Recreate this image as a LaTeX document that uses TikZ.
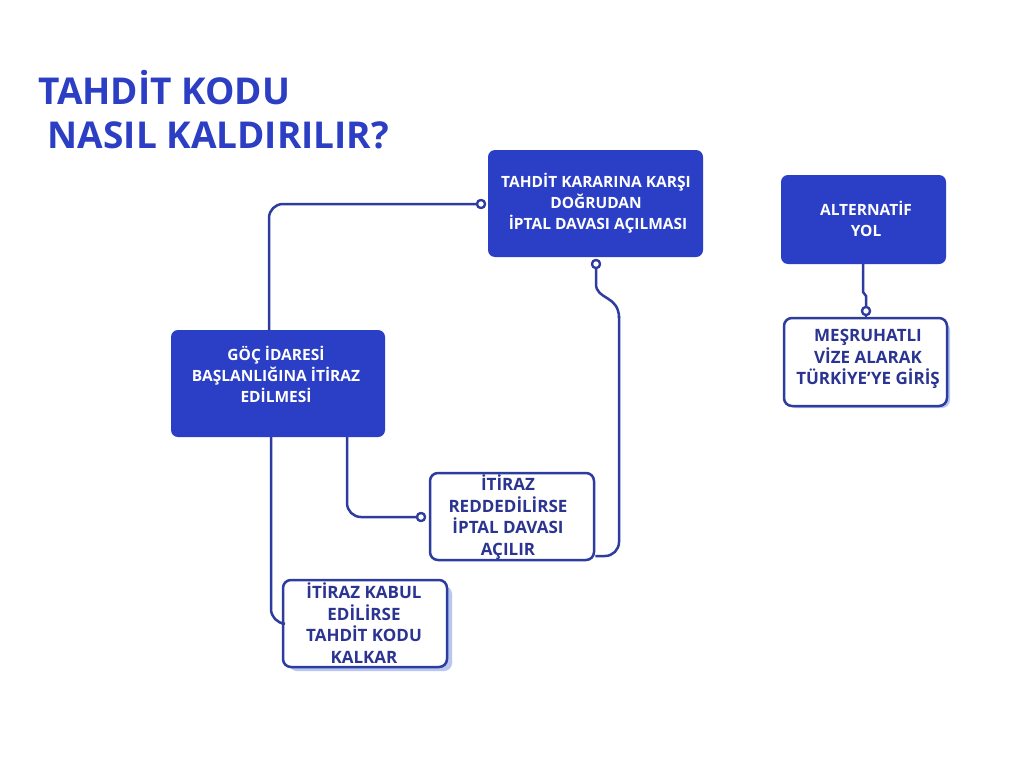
\documentclass[tikz,border=0pt]{standalone}
\usepackage{fontspec}
\setmainfont{Open Sans}
\begin{document}
\begin{tikzpicture}[x=1pt,y=-1pt,
  fillbox/.style={draw=none,fill=boxblue,rounded corners=7pt,text=white,font=\bfseries\fontsize{15.5}{21}\selectfont,align=center,inner sep=0pt},
  wbox/.style={draw=lineblue,line width=2.5pt,fill=white,rounded corners=8pt,text=navy,font=\bfseries\fontsize{17}{21.5}\selectfont,align=center,inner sep=0pt},
  shadow/.style={fill=shadowblue,rounded corners=8pt,draw=none},
  conn/.style={draw=lineblue,line width=2.5pt,rounded corners=14pt},
  dot/.style={circle,draw=lineblue,line width=2.2pt,fill=white,minimum size=8pt,inner sep=0pt}]
\definecolor{boxblue}{HTML}{2A3EC6}
\definecolor{lineblue}{HTML}{2D3C9E}
\definecolor{navy}{HTML}{2B3591}
\definecolor{shadowblue}{HTML}{B8C6F0}
\definecolor{titleblue}{HTML}{2B3EC4}
\useasboundingbox (0,0) rectangle (1024,768);
\fill[white] (0,0) rectangle (1024,768);
\node[anchor=north west,text=titleblue,font=\bfseries\fontsize{37}{44}\selectfont,align=left,inner sep=0pt] (title) at (38,70) {TAHDİT KODU\\\ NASIL KALDIRILIR?};
\fill[shadow] (289,586) rectangle (452,671);
\fill[shadow] (788,322) rectangle (950,408);
\coordinate (c1) at (269,330);
\coordinate (c2) at (347,437);
\coordinate (c3) at (271,437);
\coordinate (b1) at (863,264);
\node[fillbox,minimum width=215pt,minimum height=107pt] (A) at (595.5,203.5) {};
\node[fillbox,minimum width=165pt,minimum height=89pt] (B) at (863.5,219.5) {};
\node[fillbox,minimum width=214pt,minimum height=107pt] (C) at (278,383.5) {};
\node[wbox,minimum width=164pt,minimum height=87pt] (D) at (512,516.5) {};
\node[wbox,minimum width=164pt,minimum height=87pt] (E) at (365,623.5) {};
\node[wbox,minimum width=163pt,minimum height=88pt] (F) at (865.5,362) {};
\node[dot] (dA) at (481,204) {};
\node[dot] (dA2) at (596,264) {};
\node[dot] (dD) at (421,517) {};
\node[dot] (dF) at (866,311) {};
\draw[conn] (c1) -- (269,204) -- (dA);
\draw[line width=2.5pt,draw=lineblue] (dA2) -- (596,284) .. controls (596,300) and (619,295) .. (619,318);
\draw[conn] (619,316) -- (619,556) -- (D.east |- 0,556);
\draw[conn] (c2) -- (347,517) -- (dD);
\draw[conn] (c3) -- (271,623) -- (E.west);
\draw[line width=2.5pt,draw=lineblue] (b1) -- (863,292) -- (866,296) -- (dF);
\draw[line width=2.5pt,draw=lineblue] (dF) -- (F.north -| dF);
\node[dot] at (481,204) {};
\node[dot] at (596,264) {};
\node[dot] at (421,517) {};
\node[dot] at (866,311) {};
\node[fillbox] at (596,203) {TAHDİT KARARINA KARŞI\\DOĞRUDAN\\\ İPTAL DAVASI AÇILMASI};
\node[fillbox] at (866,219) {ALTERNATİF\\YOL};
\node[fillbox] at (276,374) {GÖÇ İDARESİ\\BAŞLANLIĞINA İTİRAZ\\EDİLMESİ};
\node[wbox,draw=none,fill=none] at (508,517) {İTİRAZ\\REDDEDİLİRSE\\İPTAL DAVASI\\AÇILIR};
\node[wbox,draw=none,fill=none] at (364,623) {İTİRAZ KABUL\\EDİLİRSE\\TAHDİT KODU\\KALKAR};
\node[wbox,draw=none,fill=none] at (868,359) {MEŞRUHATLI\\VİZE ALARAK\\TÜRKİYE’YE GİRİŞ};
\end{tikzpicture}
\end{document}
